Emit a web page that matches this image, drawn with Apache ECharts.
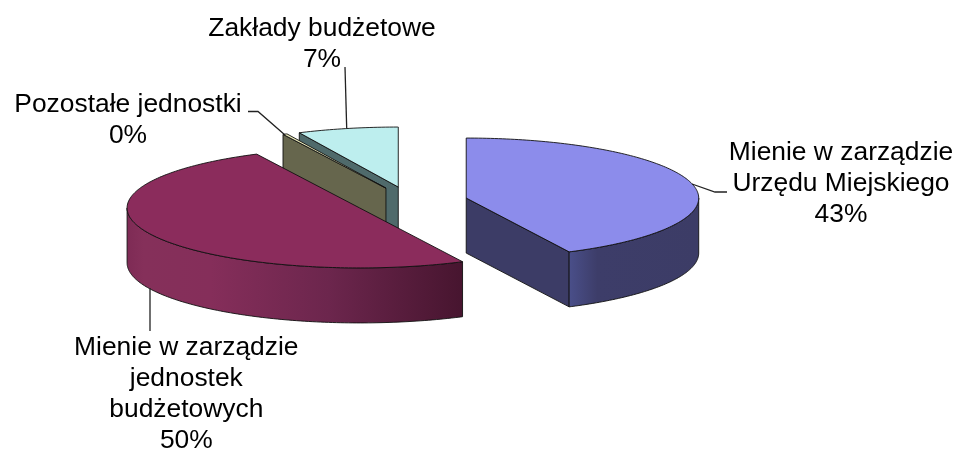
<!DOCTYPE html>
<html>
<head>
  <meta charset="utf-8">
  <title>Mienie</title>
  <style>html,body{margin:0;padding:0;background:#fff}</style>
</head>
<body>
<div id="main" style="width:958px;height:451px;"></div>
<script src="https://cdn.jsdelivr.net/npm/echarts@6/dist/echarts.min.js"></script>
<script>
  // values, one decimal so the slice angles fit, labels round them
  var categories = ['Mienie w zarządzie\nUrzędu Miejskiego', 'Mienie w zarządzie\njednostek\nbudżetowych', 'Pozostałe jednostki', 'Zakłady budżetowe'];
  var values = [42.7, 50.0, 0.3, 7.0];

  var topColors = ['#8c8ceb', '#8b2c5c', '#e6e6b8', '#bdeeee'];
  var faceColors = ['#3c3c66', '#5a1c3c', '#66664d', '#4f6a6b'];
  var rimStops = [
    [[0, '#4a4f8a'], [0.22, '#3d3d69'], [1, '#3c3c66']],
    [[0, '#7e2b55'], [0.05, '#85305a'], [0.25, '#852e5a'], [0.6, '#6c264d'], [1, '#47152f']],
    [[0, '#66664d'], [1, '#66664d']],
    [[0, '#4f6a6b'], [1, '#4f6a6b']]
  ];

  var cx = 410.7, cy = 201.4, rx = 232.5, ry = 60, depth = 55, explode = 57;
  var lineColor = '#111';

  var total = values.reduce(function (a, b) { return a + b; }, 0);
  var starts = [], acc = 0;
  values.forEach(function (v) { starts.push(acc / total * 360); acc += v; });

  function pt(o, deg, r) {
    var a = deg * Math.PI / 180;
    return [o[0] + r * rx * Math.sin(a), o[1] - r * ry * Math.cos(a)];
  }
  function down(p) { return [p[0], p[1] + depth]; }

  function renderSlice(params, api) {
    var i = api.value(0);
    var a1 = starts[i], a2 = a1 + api.value(1) / total * 360;
    var mid = (a1 + a2) / 2 * Math.PI / 180;
    var o = [cx + explode * Math.sin(mid), cy - explode * ry / rx * Math.cos(mid)];
    var children = [];
    var line = { stroke: lineColor, lineWidth: 0.9, lineJoin: 'round' };

    function poly(points, fill) {
      children.push({ type: 'polygon', shape: { points: points }, style: Object.assign({ fill: fill }, line) });
    }

    // side faces that look at the viewer
    [[a1, Math.sin(a1 * Math.PI / 180) < -1e-6], [a2, Math.sin(a2 * Math.PI / 180) > 1e-6]].forEach(function (f) {
      if (f[1]) {
        var rim = pt(o, f[0], 1);
        poly([o, rim, down(rim), down(o)], faceColors[i]);
      }
    });

    // outer wall, only between 90 and 270 degrees
    var w1 = Math.max(a1, 90), w2 = Math.min(a2, 270);
    if (w2 > w1) {
      var upper = [], lower = [];
      for (var d = w1; d < w2; d += 1) upper.push(pt(o, d, 1));
      upper.push(pt(o, w2, 1));
      upper.forEach(function (p) { lower.unshift(down(p)); });
      poly(upper.concat(lower), new echarts.graphic.LinearGradient(0, 0, 1, 0, rimStops[i].map(function (s) {
        return { offset: s[0], color: s[1] };
      })));
    }

    // top
    var topPts = [o];
    for (var t = a1; t < a2; t += 1) topPts.push(pt(o, t, 1));
    topPts.push(pt(o, a2, 1));
    poly(topPts, topColors[i]);

    return { type: 'group', children: children };
  }

  var font = '26.4px "Liberation Sans", Arial, sans-serif';
  function labelText(i, x, y) {
    return {
      type: 'text', x: x, y: y, z: 10,
      style: {
        text: categories[i] + '\n' + Math.round(values[i]) + '%',
        font: font, fill: '#000', align: 'center', verticalAlign: 'top', lineHeight: 31
      }
    };
  }
  function leader(points) {
    return { type: 'polyline', z: 9, shape: { points: points }, style: { stroke: '#222', lineWidth: 1.3, fill: null } };
  }

  var myChart = echarts.init(document.getElementById('main'), null, { renderer: 'canvas' });
  myChart.setOption({
    animation: false,
    backgroundColor: '#fff',
    graphic: [
      leader([[727, 192], [715, 192], [692, 184]]),
      leader([[150, 331], [150, 288]]),
      leader([[248, 111.5], [258, 111.5], [285, 135]]),
      leader([[345, 67], [346.7, 128]]),
      labelText(0, 841, 137.5),
      labelText(1, 186.3, 332.5),
      labelText(2, 128, 89.5),
      labelText(3, 322, 13.4)
    ],
    series: [{
      type: 'custom',
      coordinateSystem: 'none',
      renderItem: renderSlice,
      data: values.map(function (v, i) { return [i, v]; }).reverse()
    }]
  });
</script>
</body>
</html>
